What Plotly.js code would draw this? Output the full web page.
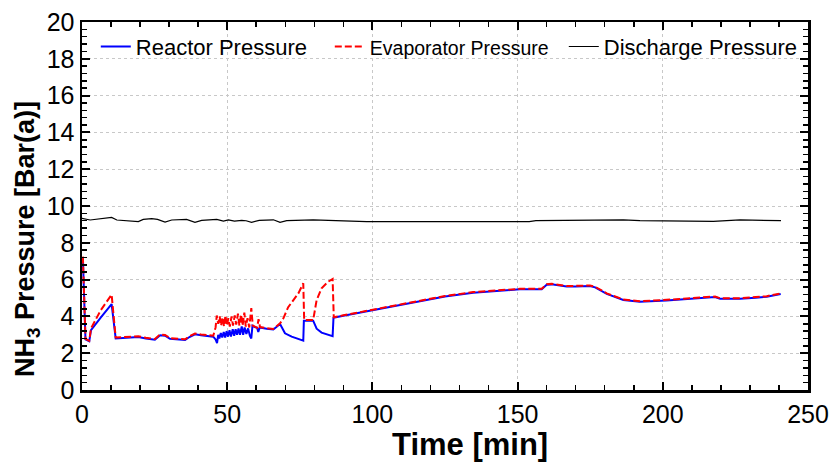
<!DOCTYPE html>
<html>
<head>
<meta charset="utf-8">
<script src="https://cdn.plot.ly/plotly-3.0.1.min.js"></script>
<style>html,body{margin:0;padding:0;background:#fff;}#chart{width:837px;height:462px;}</style>
</head>
<body>
<div id="chart"></div>
<script>
// Reactor pressure (blue)
const tReactor = [0.3,1.2,2.5,3.1,6.5,10.2,11.6,15,19.4,22,25.1,26.9,28.6,30.3,33,35.5,37,38.9,41,45.2,
  46.0,46.5,46.9,47.3,47.8,48.3,48.8,49.3,49.8,50.3,50.8,51.3,51.9,52.4,52.9,53.4,53.9,54.4,55.0,55.5,56.0,56.6,57.2,57.8,58.3,
  58.7,59.5,60.3,60.7,61.2,63.6,65.9,68.2,69.9,72.2,76.2,76.4,79.6,80.8,82.5,86.3,86.6,
  90,95.7,100.9,108,117.5,125,134.7,142,150.8,158.3,160,161.7,166.9,170,174.9,176.7,180.7,186.4,192.1,201.3,210.5,218,219.7,226.6,232,235.8,240.6];
const pReactor = [7.2,2.75,2.65,3.25,3.95,4.67,2.8,2.84,2.88,2.8,2.73,2.98,2.95,2.78,2.74,2.72,2.88,3.03,2.98,2.9,
  2.75,2.55,3.0,2.8,3.1,2.85,3.15,2.85,3.2,2.9,3.25,2.9,3.3,2.95,3.3,3.0,3.35,3.0,3.45,3.0,3.4,3.05,3.35,2.95,2.8,
  3.5,3.42,3.38,3.15,3.4,3.33,3.29,3.59,3.08,2.9,2.68,3.77,3.77,3.33,3.12,2.93,3.93,
  4.03,4.2,4.38,4.6,4.89,5.08,5.29,5.38,5.47,5.47,5.72,5.74,5.62,5.63,5.65,5.58,5.22,4.89,4.8,4.87,4.96,5.05,4.96,4.96,5.02,5.07,5.22];

// Evaporator pressure (red dashed)
const tEvap = [0.3,1.2,2.5,3.1,6.5,10.2,11.6,15,19.4,22,25.1,26.9,28.6,30.3,33,35.5,37,38.9,41,45.2,
  46.0,46.4,46.9,47.4,47.9,48.4,48.9,49.4,49.9,50.4,50.9,51.5,52.0,52.6,53.1,53.7,54.2,54.8,55.3,55.9,56.4,57.0,57.6,58.3,58.8,
  59.5,60.3,60.8,61.3,63.6,65.9,68.2,69.3,71,72.8,74.5,76.2,76.5,79.6,80.8,82.5,84.8,86.3,86.7,
  90,95.7,100.9,108,117.5,125,134.7,142,150.8,158.3,160,161.7,166.9,170,174.9,176.7,180.7,186.4,192.1,201.3,210.5,218,219.7,226.6,232,235.8,240.6];
const pEvap = [7.25,2.78,2.68,3.35,4.35,5.18,2.85,2.88,2.92,2.84,2.77,3.02,2.99,2.82,2.78,2.76,2.92,3.07,3.02,2.95,
  3.4,4.05,3.6,4.0,3.5,3.95,3.45,4.05,3.5,3.9,3.45,4.0,3.5,4.05,3.55,4.15,3.5,4.1,3.5,4.2,3.45,3.9,3.4,4.45,3.5,
  3.45,3.38,3.85,3.42,3.36,3.32,3.62,3.88,4.5,4.89,5.25,5.8,3.8,3.8,4.89,5.53,5.89,6.03,3.95,
  4.06,4.23,4.41,4.63,4.92,5.11,5.32,5.41,5.5,5.5,5.75,5.77,5.65,5.66,5.68,5.61,5.25,4.92,4.83,4.9,4.99,5.08,4.99,4.99,5.05,5.1,5.25];

// Discharge pressure (black)
const tDisch = [0,2.8,10.2,12,19.4,21.1,24,26,28.6,30.9,36,38.9,41.2,46.4,48.7,50.4,52.5,55,56.5,58.4,61,65.9,68.2,70.5,79.6,91.1,98,114,137,154,156.3,171.5,186.4,192.1,210.5,217.4,226.6,240.7];
const pDisch = [9.33,9.24,9.38,9.24,9.15,9.27,9.31,9.27,9.13,9.24,9.27,9.11,9.22,9.27,9.18,9.24,9.18,9.22,9.2,9.11,9.22,9.25,9.11,9.2,9.25,9.2,9.15,9.15,9.17,9.15,9.2,9.24,9.25,9.2,9.18,9.16,9.25,9.2];

const seriesNames = ['Reactor Pressure', 'Evaporator Pressure', 'Discharge Pressure'];
const xTitle = 'Time [min]';
const yTitle = 'NH<sub>3</sub> Pressure [Bar(a)]';

const FONT = 'Arial, "Liberation Sans", sans-serif';

const traces = [
  {x: tReactor, y: pReactor, mode: 'lines', name: seriesNames[0],
   line: {color: '#0000ff', width: 2}},
  {x: tEvap, y: pEvap, mode: 'lines', name: '<span style="font-size:19.5px">' + seriesNames[1] + '</span>',
   line: {color: '#ff0000', width: 2, dash: '7px,3px'}},
  {x: tDisch, y: pDisch, mode: 'lines', name: seriesNames[2],
   line: {color: '#000000', width: 1.2}}
];

const axisCommon = {
  showline: true, linecolor: '#000', linewidth: 2.5, mirror: 'allticks',
  ticks: 'inside', ticklen: 8, tickwidth: 2, tickcolor: '#000',
  showgrid: true, gridcolor: '#c8c8c8', gridwidth: 1, griddash: 'dot',
  zeroline: false,
  tickfont: {family: FONT, size: 25, color: '#000'}
};

const layout = {
  width: 837, height: 462,
  margin: {l: 82, r: 29, t: 22, b: 72},
  paper_bgcolor: '#fff', plot_bgcolor: '#fff',
  showlegend: true,
  legend: {orientation: 'h', x: 0.019, xanchor: 'left', y: 0.99, yanchor: 'top',
    bgcolor: 'rgba(255,255,255,0)', borderwidth: 0,
    font: {family: FONT, size: 22, color: '#000'}, entrywidth: 189, tracegroupgap: 0},
  xaxis: Object.assign({}, axisCommon, {
    range: [0, 250], dtick: 50, tick0: 0,
    minor: {dtick: 10, ticks: 'inside', ticklen: 5, tickwidth: 1.5, tickcolor: '#000', showgrid: false}
  }),
  yaxis: Object.assign({}, axisCommon, {
    range: [0, 20], dtick: 2, tick0: 0,
    minor: {dtick: 0.4, ticks: 'inside', ticklen: 5, tickwidth: 1.5, tickcolor: '#000', showgrid: false}
  }),
  annotations: [
    {text: '<b>' + xTitle + '</b>', xref: 'paper', yref: 'paper', x: 0.534, y: 0, yshift: -54,
     xanchor: 'center', yanchor: 'middle', showarrow: false,
     font: {family: FONT, size: 31, color: '#000'}},
    {text: '<b>' + yTitle + '</b>', xref: 'paper', yref: 'paper', x: 0, xshift: -55, y: 0.41,
     xanchor: 'center', yanchor: 'middle', textangle: -90, showarrow: false,
     font: {family: FONT, size: 27, color: '#000'}}
  ]
};

Plotly.newPlot('chart', traces, layout, {displayModeBar: false, staticPlot: true});
</script>
</body>
</html>
